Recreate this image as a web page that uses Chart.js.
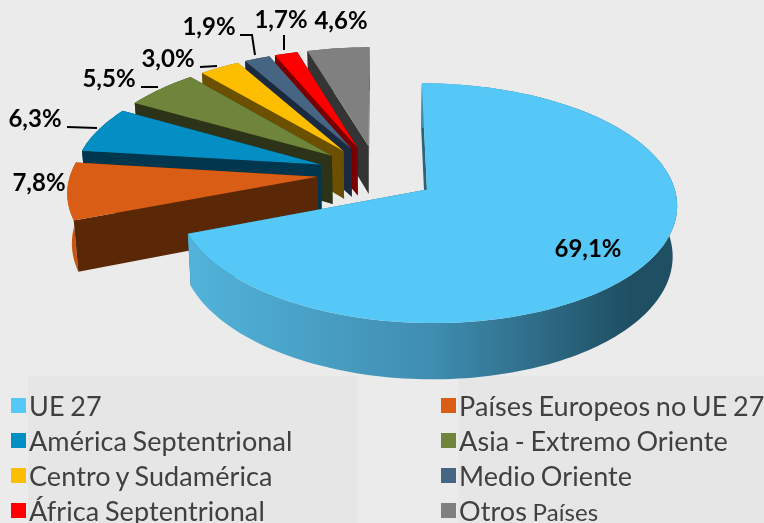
<!DOCTYPE html>
<html lang="es">
<head>
    <meta charset="UTF-8">
    <title>Exportaciones por destino</title>
    <script src="https://cdn.jsdelivr.net/npm/chart.js"></script>
    <style>
        html, body { margin: 0; padding: 0; background: #ebebeb; overflow: hidden; }
        #wrap { position: relative; width: 764px; height: 523px; overflow: hidden; }
        #myChart { position: absolute; left: 0; top: 0; }
        .panel { position: absolute; background: #e6e6e6; top: 376px; height: 147px; }
        .swatch { position: absolute; width: 15px; height: 15px; }
        .item { position: absolute; font: 27px Lato, sans-serif; color: #404040; line-height: 32px; white-space: nowrap;
            letter-spacing: 0.1px; word-spacing: -1.5px; }
        .item small { font-size: 24px; }
    </style>
</head>
<body>
<div id="wrap">
    <div class="panel" style="left:28px;width:329px"></div>
    <div class="panel" style="left:458px;width:306px"></div>
    <canvas id="myChart" width="764" height="523"></canvas>
</div>

<script>
    // datos
    const categories = ['UE 27', 'Países Europeos no UE 27', 'América Septentrional', 'Asia - Extremo Oriente',
        'Centro y Sudamérica', 'Medio Oriente', 'África Septentrional', 'Otros Países'];
    const shares = [69.1, 7.8, 6.3, 5.5, 3.0, 1.9, 1.7, 4.6];

    // colores: cara superior, cortes, pared exterior
    const topColors = ['#55c8f7', '#d95d14', '#038ec4', '#6e853b', '#fdbe00', '#456582', '#ff0000', '#808080'];
    const cutColors = ['#2a6478', '#5a2806', '#00374f', '#2c3318', '#6a5000', '#1c2a40', '#7a0000', '#343434'];
    const wallColors = [null, '#c9560f', '#02506f', '#3c4820', '#8a6a00', '#2a3c50', '#a00000', '#555555'];

    // vista: perspectiva del plano de la tarta
    const hubX = 377, hubY = 173.4, squash = 0.47, persp = 0.00046, taper = 0.985;
    const mainRadius = 244, restRadius = 247, depth = 49, explode = 57;

    // etiquetas y lineas guia
    const labelSpots = [[588, 249], [39, 183], [35, 119], [109, 79], [168, 59], [209, 27], [281, 20], [341, 21]];
    const leaders = [
        [[67, 127], [97, 128]],
        [[141, 87], [158, 87]],
        [[200, 67], [217, 66]],
        [[240, 35], [252, 35], [255, 55]],
        [[284, 35], [284, 50]]
    ];

    function project(u, v, down) {
        const w = 1 - persp * v;
        if (down) return [hubX + taper * u / w, hubY + (squash * v + depth) / w];
        return [hubX + u / w, hubY + squash * v / w];
    }

    function polygon(ctx, pts, fill) {
        ctx.beginPath();
        pts.forEach((p, i) => i ? ctx.lineTo(p[0], p[1]) : ctx.moveTo(p[0], p[1]));
        ctx.closePath();
        ctx.fillStyle = fill;
        ctx.fill();
    }

    const pie3d = {
        id: 'pie3d',
        // la tarta se pinta aqui, con los angulos calculados por Chart.js
        beforeDatasetDraw(chart) {
            const ctx = chart.ctx;
            const arcs = chart.getDatasetMeta(0).data;
            for (let i = arcs.length - 1; i >= 0; i--) {
                const arc = arcs[i];
                const radius = i === 0 ? mainRadius : restRadius;
                const k = mainRadius / arc.outerRadius;
                const mid = (arc.startAngle + arc.endAngle) / 2;
                const ou = Math.cos(mid) * arc.options.offset * k;
                const ov = Math.sin(mid) * arc.options.offset * k;
                const steps = Math.ceil((arc.endAngle - arc.startAngle) * 40);
                const rim = [], rimDown = [];
                for (let s = 0; s <= steps; s++) {
                    const a = arc.startAngle + (arc.endAngle - arc.startAngle) * s / steps;
                    const u = ou + Math.cos(a) * radius, v = ov + Math.sin(a) * radius;
                    rim.push(project(u, v, false));
                    rimDown.push(project(u, v, true));
                }
                const apex = project(ou, ov, false), apexDown = project(ou, ov, true);

                let wall = wallColors[i];
                if (!wall) {
                    wall = ctx.createLinearGradient(190, 0, 678, 0);
                    wall.addColorStop(0, '#52b3da');
                    wall.addColorStop(0.5, '#3f8db0');
                    wall.addColorStop(0.9, '#1f4f63');
                    wall.addColorStop(1, '#1f4f63');
                }
                const wallPts = rim.concat(rimDown.slice().reverse());
                // en la porcion grande la pared va delante de los cortes
                if (i > 0) polygon(ctx, wallPts, wall);
                polygon(ctx, [apex, rim[0], rimDown[0], apexDown], cutColors[i]);
                polygon(ctx, [apex, rim[steps], rimDown[steps], apexDown], cutColors[i]);
                if (i === 0) polygon(ctx, wallPts, wall);
                polygon(ctx, [apex].concat(rim), arc.options.backgroundColor);
            }
            return false;
        },
        afterDraw(chart) {
            const ctx = chart.ctx;
            ctx.strokeStyle = '#000000';
            ctx.lineWidth = 2;
            leaders.forEach(line => {
                ctx.beginPath();
                line.forEach((p, i) => i ? ctx.lineTo(p[0], p[1]) : ctx.moveTo(p[0], p[1]));
                ctx.stroke();
            });
            ctx.fillStyle = '#000000';
            ctx.font = 'bold 24px Lato, sans-serif';
            ctx.textAlign = 'center';
            ctx.textBaseline = 'middle';
            shares.forEach((v, i) => {
                ctx.fillText(v.toFixed(1).replace('.', ',') + '%', labelSpots[i][0], labelSpots[i][1]);
            });
        }
    };

    new Chart(document.getElementById('myChart').getContext('2d'), {
        type: 'pie',
        data: {
            labels: categories,
            datasets: [{ data: shares, backgroundColor: topColors, borderWidth: 0, offset: explode }]
        },
        options: {
            responsive: false,
            animation: false,
            events: [],
            plugins: { legend: { display: false }, tooltip: { enabled: false } }
        },
        plugins: [pie3d]
    });

    // leyenda en dos columnas
    const wrap = document.getElementById('wrap');
    categories.forEach((name, i) => {
        const left = i % 2 ? 441 : 11;
        const y = 405.5 + 35 * Math.floor(i / 2);
        const sw = document.createElement('div');
        sw.className = 'swatch';
        sw.style.left = left + 'px';
        sw.style.top = (y - 7.5) + 'px';
        sw.style.background = topColors[i];
        wrap.appendChild(sw);
        const item = document.createElement('div');
        item.className = 'item';
        item.style.left = (left + 18) + 'px';
        item.style.top = (y - 16) + 'px';
        item.innerHTML = name === 'Otros Países' ? 'Otros <small>Países</small>' : name;
        wrap.appendChild(item);
    });
</script>
</body>
</html>
